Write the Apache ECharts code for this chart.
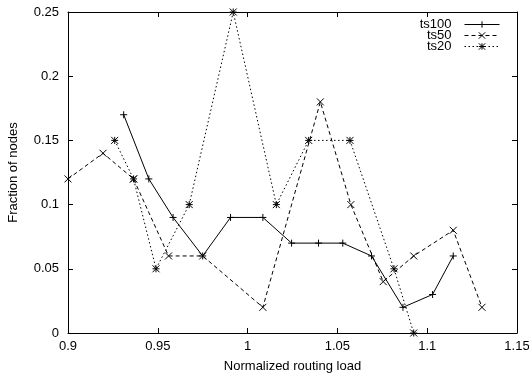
<!DOCTYPE html>
<html>
<head>
<meta charset="utf-8">
<script src="https://cdn.jsdelivr.net/npm/echarts@6/dist/echarts.min.js"></script>
<style>
  html, body { margin: 0; padding: 0; background: #fff; }
  #chart { width: 529px; height: 374px; }
</style>
</head>
<body>
<div id="chart"></div>
<script>
// values
const ts100X = [0.931, 0.945, 0.9585, 0.975, 0.9905, 1.0085, 1.0245, 1.0395, 1.053, 1.069, 1.0865, 1.103, 1.1145];
const ts100Y = [0.17, 0.12, 0.09, 0.06, 0.09, 0.09, 0.07, 0.07, 0.07, 0.06, 0.02, 0.03, 0.06];

const ts50X = [0.9, 0.9195, 0.9365, 0.956, 0.975, 1.0085, 1.0405, 1.0575, 1.0755, 1.0925, 1.1145, 1.1305];
const ts50Y = [0.12, 0.14, 0.12, 0.06, 0.06, 0.02, 0.18, 0.10, 0.04, 0.06, 0.08, 0.02];

const ts20X = [0.926, 0.9365, 0.949, 0.9675, 0.992, 1.016, 1.034, 1.057, 1.0815, 1.0925];
const ts20Y = [0.15, 0.12, 0.05, 0.10, 0.25, 0.10, 0.15, 0.15, 0.05, 0.0];

const xTicks = [0.9, 1.15, 0.05];   // min, max, step
const yTicks = [0, 0.25, 0.05];

const FONT = 'Liberation Sans';
const PLUS = 'path://M-1,0L1,0M0,-1L0,1';
const CROSS = 'path://M-1,-1L1,1M-1,1L1,-1';
const STAR = 'path://M-1,0L1,0M0,-1L0,1M-1,-1L1,1M-1,1L1,-1';

function pairs(xs, ys) {
    return xs.map((x, i) => [x, ys[i]]);
}

function fmt(v) {
    return String(+v.toFixed(2));
}

function axis(base, extra) {
    return Object.assign({
        type: 'value',
        min: base[0],
        max: base[1],
        interval: base[2],
        axisLine: { show: true, onZero: false, lineStyle: { color: '#000', width: 1 } },
        axisTick: { show: true, inside: true, length: 5, lineStyle: { color: '#000' } },
        splitLine: { show: false },
        axisLabel: { show: false }
    }, extra);
}

const labelStyle = { show: true, color: '#000', fontFamily: FONT, fontSize: 13, formatter: fmt };

function line(name, xs, ys, symbol, type) {
    return {
        name: name,
        type: 'line',
        data: pairs(xs, ys),
        symbol: symbol,
        symbolSize: 7,
        showSymbol: true,
        lineStyle: { color: '#000', width: 1, type: type },
        itemStyle: { color: '#000', borderColor: '#000', borderWidth: 1 },
        emphasis: { disabled: true },
        z: 3
    };
}

const chart = echarts.init(document.getElementById('chart'), null, { renderer: 'canvas' });
chart.setOption({
    animation: false,
    backgroundColor: '#fff',
    textStyle: { fontFamily: FONT },
    grid: { left: 68, right: 12, top: 12, bottom: 41, containLabel: false, outerBoundsMode: 'none' },
    legend: {
        orient: 'vertical',
        right: 24,
        top: 13,
        align: 'right',
        itemWidth: 35,
        itemHeight: 8,
        itemGap: -2,
        lineStyle: { width: 1 },
        itemStyle: { borderWidth: 1 },
        textStyle: { color: '#000', fontFamily: FONT, fontSize: 13, lineHeight: 11, width: 32, align: 'right', padding: [0, 8, 0, 0] },
        data: ['ts100', 'ts50', 'ts20']
    },
    xAxis: [
        axis(xTicks, {
            position: 'bottom',
            axisLabel: Object.assign({ margin: 7 }, labelStyle),
            name: 'Normalized routing load',
            nameLocation: 'middle',
            nameGap: 27,
            nameTextStyle: { color: '#000', fontFamily: FONT, fontSize: 13 }
        }),
        axis(xTicks, { position: 'top' })
    ],
    yAxis: [
        axis(yTicks, {
            position: 'left',
            axisLabel: Object.assign({ margin: 9 }, labelStyle),
            name: 'Fraction of nodes',
            nameLocation: 'middle',
            nameGap: 48,
            nameTextStyle: { color: '#000', fontFamily: FONT, fontSize: 13 }
        }),
        axis(yTicks, { position: 'right' })
    ],
    series: [
        line('ts100', ts100X, ts100Y, PLUS, 'solid'),
        line('ts50', ts50X, ts50Y, CROSS, [4, 3]),
        line('ts20', ts20X, ts20Y, STAR, [1.5, 2.5])
    ]
});
</script>
</body>
</html>
